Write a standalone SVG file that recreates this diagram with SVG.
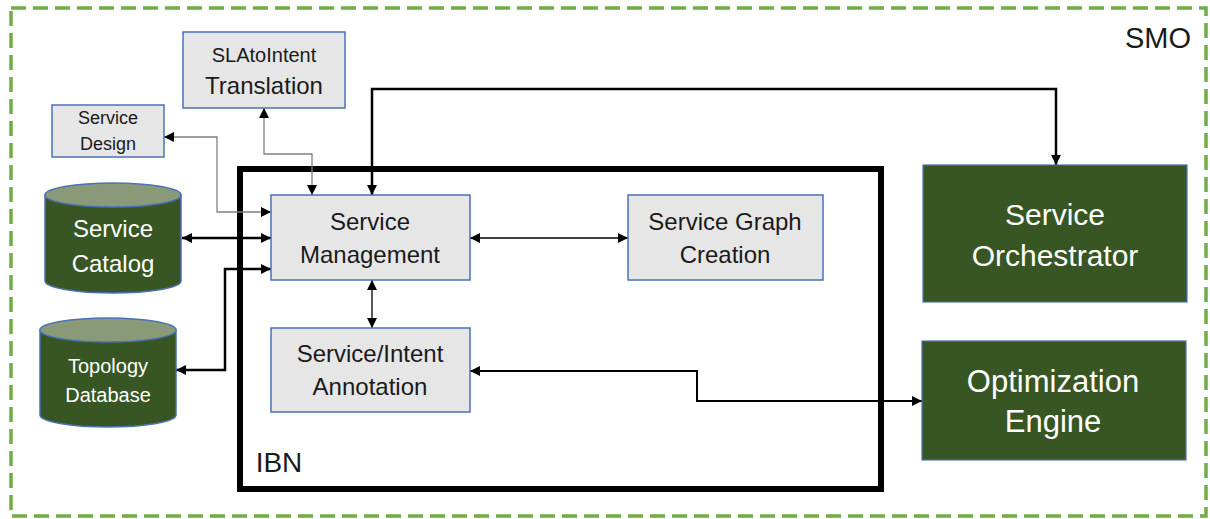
<svg xmlns="http://www.w3.org/2000/svg" width="1210" height="519" viewBox="0 0 1210 519">
<defs>
<marker id="ah" viewBox="0 0 10 10" refX="10" refY="5" markerWidth="10" markerHeight="10" markerUnits="userSpaceOnUse" orient="auto-start-reverse">
<path d="M0,0 L10,5 L0,10 z" fill="#000"/>
</marker>
</defs>
<style>
.t{font-family:"Liberation Sans",Arial,sans-serif;text-anchor:middle}
.dk{fill:#1a1a1a}
.wh{fill:#ffffff}
.box{fill:#E7E6E6;stroke:#4A72B8;stroke-width:1.5}
.gbox{fill:#375623;stroke:#4A72B8;stroke-width:1.2}
.cyl{fill:#375623;stroke:#4A72B8;stroke-width:1.5}
.ctop{fill:#8A9A78;stroke:#4A72B8;stroke-width:1.5}
.c{fill:none;stroke:#000;marker-start:url(#ah);marker-end:url(#ah)}
.cg{fill:none;stroke:#808080;stroke-width:1.3;marker-start:url(#ah);marker-end:url(#ah)}
</style>
<rect width="1210" height="519" fill="#ffffff"/>
<g id="smo">
<rect x="11" y="8" width="1195" height="508" fill="none" stroke="#70AD47" stroke-width="3.5" stroke-dasharray="15 7"/>
<text class="t dk" x="1158" y="48" font-size="29">SMO</text>
</g>
<g id="ibn">
<rect x="240" y="169" width="641" height="320" fill="none" stroke="#000" stroke-width="6"/>
<text class="t dk" x="279" y="472" font-size="28">IBN</text>
</g>
<g id="connectors">
<path class="c" stroke-width="2.5" d="M372,195 V89 H1056 V165"/>
<path class="cg" d="M264,108 V154 H312 V195"/>
<path class="cg" d="M164,137 H217 V212 H271"/>
<path class="c" stroke-width="2.5" d="M182,238 H271"/>
<path class="c" stroke-width="2.5" d="M176,370 H225 V269 H271"/>
<path class="c" stroke-width="1.3" d="M470,238 H628"/>
<path class="c" stroke-width="1.3" d="M372,280 V328"/>
<path class="c" stroke-width="2" d="M470,371 H697 V401 H922"/>
</g>
<g id="sla-translation">
<rect class="box" x="183" y="32" width="162" height="76"/>
<text class="t dk" x="264" y="62" font-size="20">SLAtoIntent</text>
<text class="t dk" x="264" y="94" font-size="24">Translation</text>
</g>
<g id="service-design">
<rect class="box" x="52" y="105" width="112" height="52"/>
<text class="t dk" x="108" y="124" font-size="18">Service</text>
<text class="t dk" x="108" y="150" font-size="18">Design</text>
</g>
<g id="service-catalog">
<path class="cyl" d="M45,195 V281 A68,12 0 0 0 181,281 V195 Z"/>
<ellipse class="ctop" cx="113" cy="195" rx="68" ry="12"/>
<text class="t wh" x="113" y="237" font-size="24">Service</text>
<text class="t wh" x="113" y="272" font-size="24">Catalog</text>
</g>
<g id="topology-database">
<path class="cyl" d="M40,330 V415 A68,12 0 0 0 176,415 V330 Z"/>
<ellipse class="ctop" cx="108" cy="330" rx="68" ry="12"/>
<text class="t wh" x="108" y="373" font-size="20">Topology</text>
<text class="t wh" x="108" y="402" font-size="20">Database</text>
</g>
<g id="service-management">
<rect class="box" x="271" y="195" width="199" height="85"/>
<text class="t dk" x="370" y="230" font-size="24">Service</text>
<text class="t dk" x="370" y="263" font-size="24">Management</text>
</g>
<g id="service-graph-creation">
<rect class="box" x="628" y="195" width="195" height="85"/>
<text class="t dk" x="725" y="230" font-size="24">Service Graph</text>
<text class="t dk" x="725" y="263" font-size="24">Creation</text>
</g>
<g id="service-intent-annotation">
<rect class="box" x="271" y="328" width="199" height="84"/>
<text class="t dk" x="370" y="362" font-size="24">Service/Intent</text>
<text class="t dk" x="370" y="395" font-size="24">Annotation</text>
</g>
<g id="service-orchestrator">
<rect class="gbox" x="923" y="165" width="264" height="137"/>
<text class="t wh" x="1055" y="225" font-size="30">Service</text>
<text class="t wh" x="1055" y="266" font-size="30">Orchestrator</text>
</g>
<g id="optimization-engine">
<rect class="gbox" x="922" y="341" width="264" height="119"/>
<text class="t wh" x="1053" y="392" font-size="31">Optimization</text>
<text class="t wh" x="1053" y="432" font-size="31">Engine</text>
</g>
</svg>
